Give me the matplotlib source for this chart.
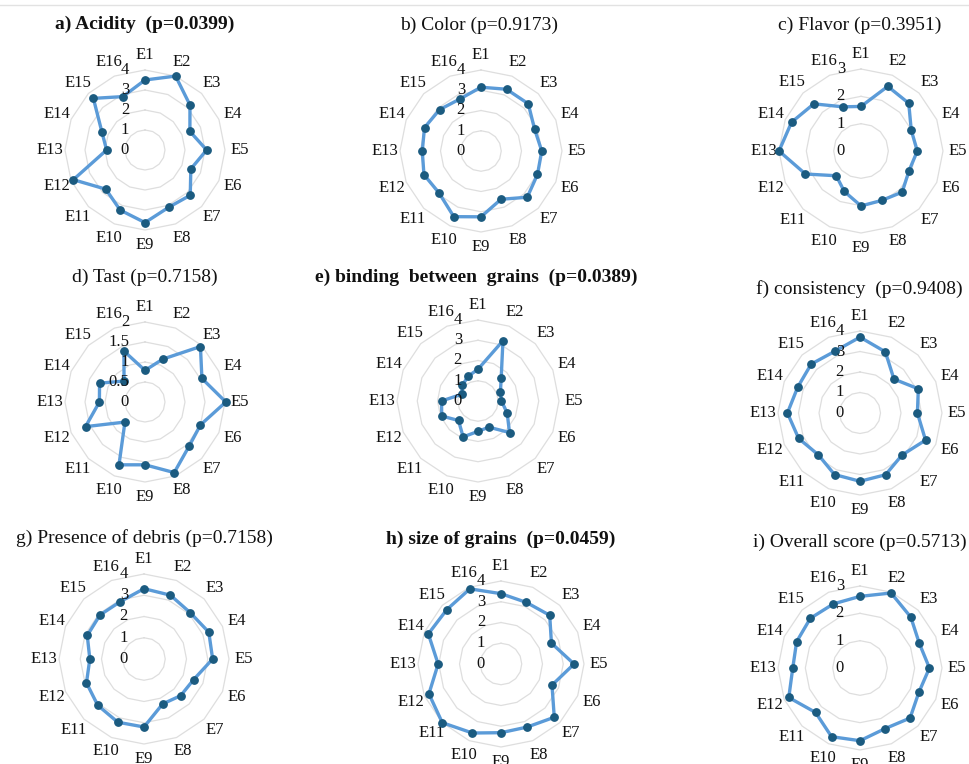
import numpy as np
import matplotlib
matplotlib.use("Agg")
import matplotlib.pyplot as plt
from matplotlib.lines import Line2D

plt.rcParams['font.family'] = ['Liberation Serif', 'DejaVu Serif']

# ---------------- data ----------------
axes_labels = ["E1", "E2", "E3", "E4", "E5", "E6", "E7", "E8",
               "E9", "E10", "E11", "E12", "E13", "E14", "E15", "E16"]

acidity = [3.5, 4.0, 3.18, 2.43, 3.08, 2.48, 3.2, 3.1, 3.63, 3.25, 2.77, 3.88, 1.92, 2.33, 3.65, 2.89]
color = [3.15, 3.3, 3.3, 2.86, 3.0, 3.02, 3.23, 2.58, 3.25, 3.51, 2.93, 3.05, 2.9, 3.02, 2.89, 2.77]
flavor = [1.63, 2.56, 2.47, 1.99, 2.06, 1.9, 2.13, 1.96, 2.01, 1.6, 1.28, 2.2, 3.0, 2.75, 2.44, 1.75]
tast = [0.79, 1.16, 1.96, 1.54, 2.02, 1.5, 1.56, 1.91, 1.57, 1.7, 0.71, 1.61, 1.14, 1.23, 0.74, 1.38]
binding = [1.57, 3.22, 1.62, 1.2, 1.16, 1.56, 2.2, 1.4, 1.5, 1.92, 1.36, 1.94, 1.8, 0.87, 1.09, 1.31]
consistency = [3.7, 3.23, 2.34, 3.08, 2.8, 3.46, 2.9, 3.26, 3.33, 3.25, 2.88, 3.24, 3.54, 3.29, 3.37, 3.25]
debris = [3.31, 3.25, 3.08, 3.3, 3.23, 2.53, 2.44, 2.29, 3.2, 3.22, 3.08, 2.93, 2.55, 2.89, 2.93, 2.92]
grain_size = [3.39, 3.21, 3.32, 2.63, 3.52, 2.66, 3.63, 3.29, 3.31, 3.6, 4.0, 3.76, 3.03, 3.79, 3.7, 3.92]
overall = [2.62, 2.97, 2.63, 2.35, 2.54, 2.33, 2.59, 2.4, 2.66, 2.72, 2.3, 2.82, 2.46, 2.51, 2.57, 2.54]

titles = ["a) Acidity  (p=0.0399)", "b) Color (p=0.9173)", "c) Flavor (p=0.3951)",
          "d) Tast (p=0.7158)", "e) binding  between  grains  (p=0.0389)", "f) consistency  (p=0.9408)",
          "g) Presence of debris (p=0.7158)", "h) size of grains  (p=0.0459)", "i) Overall score (p=0.5713)"]
bold_titles = [True, False, False, False, True, False, False, True, False]

ticks_4 = [0, 1, 2, 3, 4]
ticks_3 = [0, 1, 2, 3]
ticks_2 = [0, 0.5, 1, 1.5, 2]
tick_text_4 = ["0", "1", "2", "3", "4"]
tick_text_3 = ["0", "1", "2", "3"]
tick_text_2 = ["0", "0.5", "1", "1.5", "2"]

series = [acidity, color, flavor, tast, binding, consistency, debris, grain_size, overall]
tick_sets = [ticks_4, ticks_4, ticks_3, ticks_2, ticks_4, ticks_4, ticks_4, ticks_4, ticks_3]
tick_texts = [tick_text_4, tick_text_4, tick_text_3, tick_text_2, tick_text_4, tick_text_4,
              tick_text_4, tick_text_4, tick_text_3]

# ---------------- layout (pixels) ----------------
W, H = 970, 764
centers = [(145, 150), (481, 151), (861, 151),
           (145, 402), (478, 401), (860, 413),
           (144, 659), (501, 664), (860, 668)]
radii = [80, 81, 82, 80, 81, 82, 85, 83, 82]
title_pos = [(145, 24), (479, 25), (860, 25),
             (145, 277), (476, 277), (859, 289),
             (144, 538), (501, 539), (860, 542)]

LINE_C = "#5b9bd8"
MARK_C = "#1b5b80"
GRID_C = "#dedede"

fig = plt.figure(figsize=(W / 100, H / 100), dpi=100)
fig.add_artist(Line2D([0, 1], [1 - 5 / H, 1 - 5 / H], transform=fig.transFigure,
                      color="#e2e2e2", lw=1))

n = len(axes_labels)
angles = np.arange(n) * 2 * np.pi / n
angles_closed = np.append(angles, angles[0])

for k in range(9):
    cx, cy = centers[k]
    R = radii[k]
    ax = fig.add_axes([(cx - R) / W, 1 - (cy + R) / H, 2 * R / W, 2 * R / H], projection="polar")
    ax.set_theta_zero_location("N")
    ax.set_theta_direction(-1)
    ticks = tick_sets[k]
    rmax = ticks[-1]
    ax.set_ylim(0, rmax)
    ax.grid(False)
    ax.set_xticks([])
    ax.set_yticks([])
    ax.spines["polar"].set_visible(False)
    ax.set_facecolor("none")

    for t in ticks[1:]:
        ax.plot(angles_closed, [t] * (n + 1), color=GRID_C, lw=0.9, zorder=1, clip_on=False)

    vals = series[k]
    vals_closed = list(vals) + [vals[0]]
    ax.plot(angles_closed, vals_closed, color=LINE_C, lw=2.4, zorder=3, clip_on=False,
            solid_joinstyle="round")
    ax.plot(angles, vals, "o", color=MARK_C, ms=5.3, zorder=4, clip_on=False)

    lab_r = rmax * (R + 15) / R
    for a, lab in zip(angles, axes_labels):
        ax.text(a, lab_r, lab, ha="center", va="center", fontsize=12, color="#111111",
                clip_on=False)

    for t, tt in zip(ticks, tick_texts[k]):
        ax.annotate(tt, xy=(0, t), xytext=(-16, 0), textcoords="offset pixels",
                    ha="right", va="center", fontsize=12, color="#111111", zorder=5,
                    annotation_clip=False)

    tx, ty = title_pos[k]
    fig.text(tx / W, 1 - ty / H, titles[k], ha="center", va="center", fontsize=14,
             fontweight="bold" if bold_titles[k] else "normal", color="#111111")

fig.savefig("out.png", dpi=100, facecolor="white")
